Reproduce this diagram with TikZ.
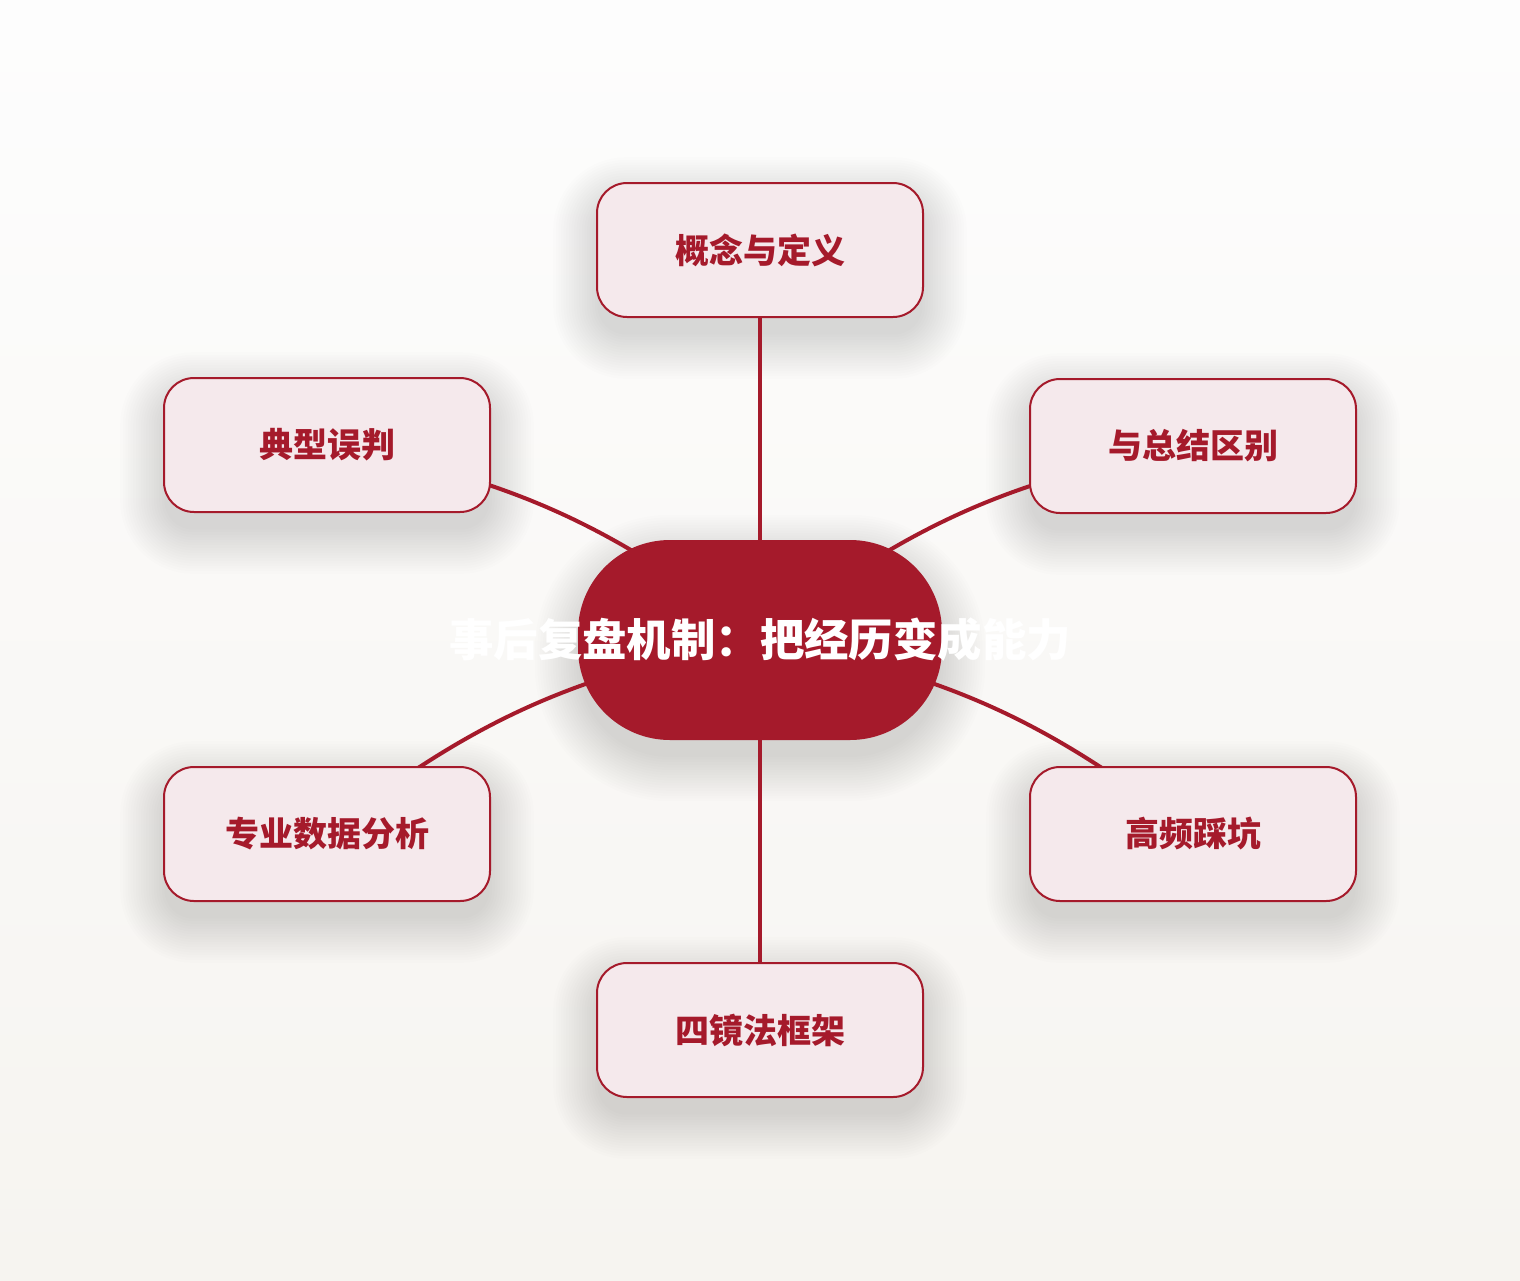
\documentclass[tikz,border=0pt]{standalone}
\usepackage{fontspec}
\newfontfamily\cjk{Noto Sans CJK SC}
\definecolor{mainred}{HTML}{A51A2B}
\definecolor{boxfill}{HTML}{F5E9EC}
\definecolor{bgtop}{HTML}{FDFDFD}
\definecolor{bgbot}{HTML}{F6F4F0}
\pgfdeclarelayer{bglayer}
\pgfdeclarelayer{shadowlayer}
\pgfdeclarelayer{edgelayer}
\pgfsetlayers{bglayer,shadowlayer,edgelayer,main}
\tikzset{
  leaf/.style={draw=mainred, line width=1pt, fill=boxfill, rounded corners=15pt,
    minimum width=163pt, minimum height=67pt, inner sep=0pt,
    text=mainred, font=\cjk\bfseries\fontsize{17pt}{20pt}\selectfont},
  hub/.style={fill=mainred, rounded corners=46pt,
    minimum width=182pt, minimum height=100pt, inner sep=0pt,
    text=white, font=\cjk\bfseries\fontsize{22.2pt}{26pt}\selectfont},
  link/.style={draw=mainred, line width=2pt, line cap=round},
  shadowlayerfill/.style={fill=black, fill opacity=0.0095}
}
\newcommand{\softshadow}[2]{% node name, corner radius (pt)
  \foreach \i in {1,...,18}{
    \pgfmathsetmacro{\e}{\i*1.3-2}
    \pgfmathsetmacro{\r}{max(#2+\e,1)}
    \fill[shadowlayerfill, rounded corners=\r pt]
      ([xshift=-\e pt, yshift=-9pt+\e pt]#1.north west) rectangle
      ([xshift=\e pt, yshift=-9pt-\e pt]#1.south east);
  }
}
\begin{document}
\begin{tikzpicture}[x=0.5pt,y=-0.5pt]
\useasboundingbox (0,0) rectangle (1520,1280);
\begin{pgfonlayer}{bglayer}
\shade[top color=bgtop, bottom color=bgbot] (0,0) rectangle (1520,1280);
\end{pgfonlayer}

\node[hub] (c) at (760,640) {\makebox[0pt]{事后复盘机制：把经历变成能力}};
\node[leaf] (t) at (760,250) {概念与定义};
\node[leaf] (tl) at (327,445) {典型误判};
\node[leaf] (tr) at (1193,446) {与总结区别};
\node[leaf] (bl) at (327,834) {专业数据分析};
\node[leaf] (br) at (1193,834) {高频踩坑};
\node[leaf] (b) at (760,1030) {四镜法框架};

\begin{pgfonlayer}{shadowlayer}
\softshadow{t}{15}
\softshadow{tl}{15}
\softshadow{tr}{15}
\softshadow{bl}{15}
\softshadow{br}{15}
\softshadow{b}{15}
\softshadow{c}{46}
\end{pgfonlayer}

\begin{pgfonlayer}{edgelayer}
\draw[link] (c.center) -- (t.center);
\draw[link] (c.center) -- (b.center);
\draw[link] (c.center) to[bend right=14] (tl.center);
\draw[link] (c.center) to[bend right=14] (bl.center);
\draw[link] (c.center) to[bend left=14] (tr.center);
\draw[link] (c.center) to[bend left=14] (br.center);
\end{pgfonlayer}
\end{tikzpicture}
\end{document}
